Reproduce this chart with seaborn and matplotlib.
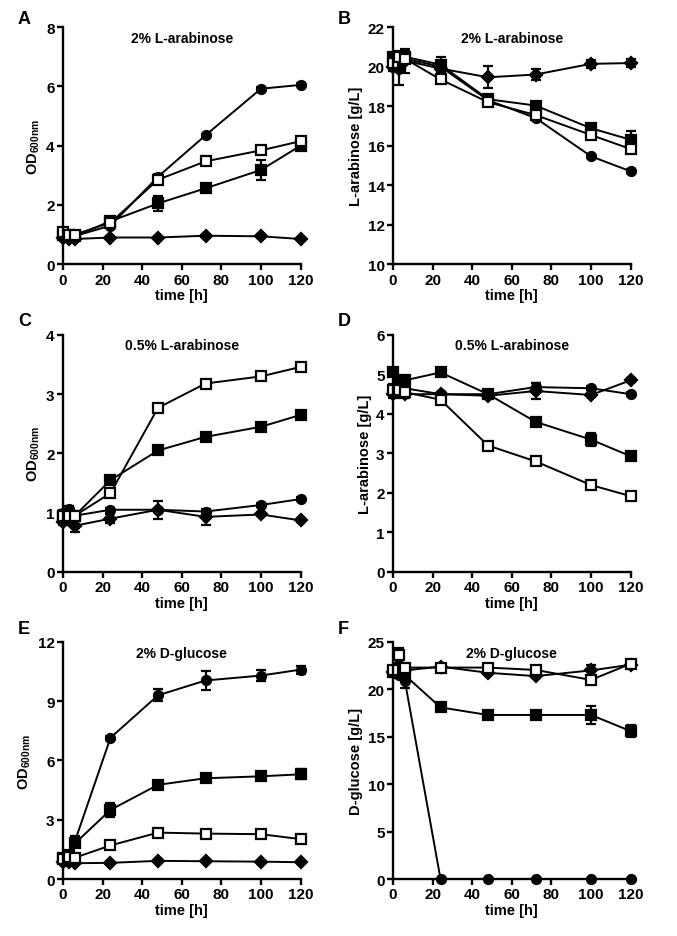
import matplotlib
matplotlib.use('Agg')
import matplotlib.pyplot as plt
import seaborn as sns
import numpy as np

# sampling times [h]
times = [0, 3, 6, 24, 48, 72, 100, 120]

# A: OD600, 2% L-arabinose
A_circle = [1.0, 0.95, 0.95, 1.3, 2.95, 4.35, 5.92, 6.05]
A_fsq = [1.0, 0.95, 0.95, 1.45, 2.05, 2.56, 3.18, 4.0]
A_osq = [1.1, 1.0, 1.0, 1.4, 2.85, 3.47, 3.84, 4.15]
A_diam = [0.9, 0.85, 0.85, 0.9, 0.9, 0.96, 0.94, 0.85]
A_circle_err = [0.05, 0.05, 0.05, 0.05, 0.1, 0.05, 0.05, 0.05]
A_fsq_err = [0.05, 0.05, 0.05, 0.1, 0.25, 0.05, 0.35, 0.1]
A_osq_err = [0.05, 0.05, 0.05, 0.05, 0.1, 0.05, 0.05, 0.05]
A_diam_err = [0.05, 0.05, 0.05, 0.05, 0.05, 0.05, 0.05, 0.05]

# B: L-arabinose [g/L], 2% L-arabinose
B_circle = [20.3, 20.4, 20.4, 20.0, 18.3, 17.4, 15.46, 14.7]
B_fsq = [20.5, 20.3, 20.5, 20.1, 18.35, 18.03, 16.88, 16.3]
B_osq = [20.2, 20.5, 20.4, 19.35, 18.2, 17.55, 16.54, 15.83]
B_diam = [20.0, 19.9, 20.3, 19.9, 19.46, 19.6, 20.14, 20.18]
B_circle_err = [0.2, 0.2, 0.2, 0.1, 0.2, 0.1, 0.1, 0.1]
B_fsq_err = [0.2, 0.3, 0.3, 0.4, 0.2, 0.1, 0.15, 0.45]
B_osq_err = [0.2, 0.3, 0.2, 0.1, 0.2, 0.2, 0.2, 0.15]
B_diam_err = [0.2, 0.85, 0.6, 0.2, 0.55, 0.3, 0.2, 0.2]

# C: OD600, 0.5% L-arabinose
C_circle = [1.0, 1.07, 0.95, 1.05, 1.05, 1.02, 1.13, 1.23]
C_fsq = [0.95, 0.95, 0.95, 1.55, 2.05, 2.28, 2.45, 2.65]
C_osq = [0.95, 0.95, 0.95, 1.33, 2.77, 3.18, 3.3, 3.46]
C_diam = [0.85, 0.9, 0.78, 0.9, 1.05, 0.93, 0.97, 0.87]
C_circle_err = [0.05, 0.05, 0.05, 0.03, 0.03, 0.03, 0.03, 0.03]
C_fsq_err = [0.05, 0.05, 0.05, 0.03, 0.03, 0.03, 0.03, 0.03]
C_osq_err = [0.05, 0.05, 0.05, 0.03, 0.03, 0.03, 0.03, 0.03]
C_diam_err = [0.05, 0.05, 0.1, 0.08, 0.15, 0.13, 0.03, 0.03]

# D: L-arabinose [g/L], 0.5% L-arabinose
D_circle = [4.65, 4.7, 4.65, 4.5, 4.5, 4.68, 4.65, 4.5]
D_fsq = [5.07, 4.8, 4.85, 5.05, 4.5, 3.8, 3.35, 2.93]
D_osq = [4.6, 4.6, 4.55, 4.36, 3.2, 2.8, 2.2, 1.92]
D_diam = [4.5, 4.55, 4.5, 4.5, 4.46, 4.58, 4.48, 4.85]
D_circle_err = [0.1, 0.1, 0.1, 0.05, 0.05, 0.1, 0.05, 0.05]
D_fsq_err = [0.1, 0.1, 0.1, 0.05, 0.05, 0.05, 0.17, 0.1]
D_osq_err = [0.1, 0.1, 0.1, 0.05, 0.05, 0.05, 0.05, 0.05]
D_diam_err = [0.1, 0.1, 0.1, 0.05, 0.05, 0.2, 0.05, 0.05]

# E: OD600, 2% D-glucose
E_circle = [1.1, 1.2, 1.9, 7.15, 9.3, 10.05, 10.3, 10.6]
E_fsq = [1.05, 1.2, 1.8, 3.5, 4.77, 5.1, 5.2, 5.3]
E_osq = [1.0, 1.1, 1.08, 1.7, 2.35, 2.3, 2.27, 2.02]
E_diam = [0.85, 0.85, 0.8, 0.82, 0.92, 0.9, 0.88, 0.85]
E_circle_err = [0.1, 0.1, 0.3, 0.1, 0.3, 0.5, 0.3, 0.2]
E_fsq_err = [0.1, 0.1, 0.2, 0.35, 0.1, 0.1, 0.1, 0.25]
E_osq_err = [0.1, 0.1, 0.1, 0.1, 0.1, 0.1, 0.1, 0.1]
E_diam_err = [0.05, 0.05, 0.05, 0.05, 0.05, 0.05, 0.05, 0.05]

# F: D-glucose [g/L], 2% D-glucose
F_circle = [21.8, 21.5, 20.9, 0.0, 0.0, 0.0, 0.0, 0.0]
F_fsq = [21.8, 22.0, 21.5, 18.1, 17.3, 17.3, 17.3, 15.6]
F_osq = [22.0, 23.6, 22.3, 22.3, 22.3, 22.05, 21.0, 22.7]
F_diam = [21.8, 22.5, 22.0, 22.4, 21.75, 21.4, 22.0, 22.6]
F_circle_err = [0.3, 0.3, 0.8, 0.0, 0.0, 0.0, 0.0, 0.0]
F_fsq_err = [0.3, 0.3, 0.3, 0.2, 0.2, 0.2, 0.9, 0.65]
F_osq_err = [0.3, 0.8, 0.3, 0.2, 0.2, 0.2, 0.3, 0.2]
F_diam_err = [0.3, 0.3, 0.3, 0.2, 0.2, 0.2, 0.55, 0.2]

panels = [
    ('A', '2% L-arabinose', r'OD$_{\mathregular{600nm}}$', (0, 8), [0, 2, 4, 6, 8],
     [(A_diam, A_diam_err), (A_circle, A_circle_err), (A_fsq, A_fsq_err), (A_osq, A_osq_err)]),
    ('B', '2% L-arabinose', 'L-arabinose [g/L]', (10, 22), [10, 12, 14, 16, 18, 20, 22],
     [(B_diam, B_diam_err), (B_circle, B_circle_err), (B_fsq, B_fsq_err), (B_osq, B_osq_err)]),
    ('C', '0.5% L-arabinose', r'OD$_{\mathregular{600nm}}$', (0, 4), [0, 1, 2, 3, 4],
     [(C_diam, C_diam_err), (C_circle, C_circle_err), (C_fsq, C_fsq_err), (C_osq, C_osq_err)]),
    ('D', '0.5% L-arabinose', 'L-arabinose [g/L]', (0, 6), [0, 1, 2, 3, 4, 5, 6],
     [(D_diam, D_diam_err), (D_circle, D_circle_err), (D_fsq, D_fsq_err), (D_osq, D_osq_err)]),
    ('E', '2% D-glucose', r'OD$_{\mathregular{600nm}}$', (0, 12), [0, 3, 6, 9, 12],
     [(E_diam, E_diam_err), (E_circle, E_circle_err), (E_fsq, E_fsq_err), (E_osq, E_osq_err)]),
    ('F', '2% D-glucose', 'D-glucose [g/L]', (0, 25), [0, 5, 10, 15, 20, 25],
     [(F_diam, F_diam_err), (F_circle, F_circle_err), (F_fsq, F_fsq_err), (F_osq, F_osq_err)]),
]

# marker, face colour, size for diamond / circle / filled square / open square
styles = [('D', 'black', 6), ('o', 'black', 6.5), ('s', 'black', 7), ('s', 'white', 7)]

sns.set_style('ticks')
plt.rcParams['font.family'] = ['Liberation Sans', 'DejaVu Sans']
plt.rcParams['font.weight'] = 'bold'
plt.rcParams['text.color'] = 'black'
plt.rcParams['axes.labelcolor'] = 'black'
plt.rcParams['mathtext.fontset'] = 'custom'
plt.rcParams['mathtext.rm'] = 'Liberation Sans'

fig = plt.figure(figsize=(6.77, 9.37), dpi=100)

lefts = [0.093, 0.5805]
bottoms = [0.717, 0.3885, 0.0608]
W, H = 0.351, 0.253
# panel letter positions in figure pixels
letter_x = [18, 338]
letter_y = [20, 322, 629]

for i, (letter, title, ylabel, ylim, yticks, series) in enumerate(panels):
    ax = fig.add_axes([lefts[i % 2], bottoms[i // 2], W, H])
    for (vals, err), (mk, fc, ms) in zip(series, styles):
        ax.errorbar(times, vals, yerr=err, fmt='none', ecolor='black',
                    elinewidth=1.6, capsize=3.5, capthick=1.6, clip_on=False)
        sns.lineplot(x=times, y=vals, ax=ax, color='black', lw=1.4,
                     marker=mk, markersize=ms, markerfacecolor=fc,
                     markeredgecolor='black', markeredgewidth=1.6, clip_on=False)
    ax.set_xlim(0, 120)
    ax.set_ylim(*ylim)
    ax.set_xticks([0, 20, 40, 60, 80, 100, 120])
    ax.set_yticks(yticks)
    sns.despine(ax=ax)
    for s in ['left', 'bottom']:
        ax.spines[s].set_linewidth(1.7)
        ax.spines[s].set_color('black')
    ax.tick_params(width=1.7, length=4, labelsize=11, colors='black', pad=2)
    for lab in ax.get_xticklabels() + ax.get_yticklabels():
        lab.set_fontweight('bold')
    ax.set_xlabel('time [h]', fontsize=10.5, fontweight='bold', labelpad=1)
    ax.set_ylabel(ylabel, fontsize=10.5, fontweight='bold', labelpad=3)
    ax.text(0.5, 0.985, title, transform=ax.transAxes, ha='center', va='top',
            fontsize=10, fontweight='bold')
    fig.text(letter_x[i % 2] / 677, 1 - letter_y[i // 2] / 937, letter,
             fontsize=13, fontweight='bold', ha='left', va='center')

fig.savefig('out.png', dpi=100, facecolor='white')
